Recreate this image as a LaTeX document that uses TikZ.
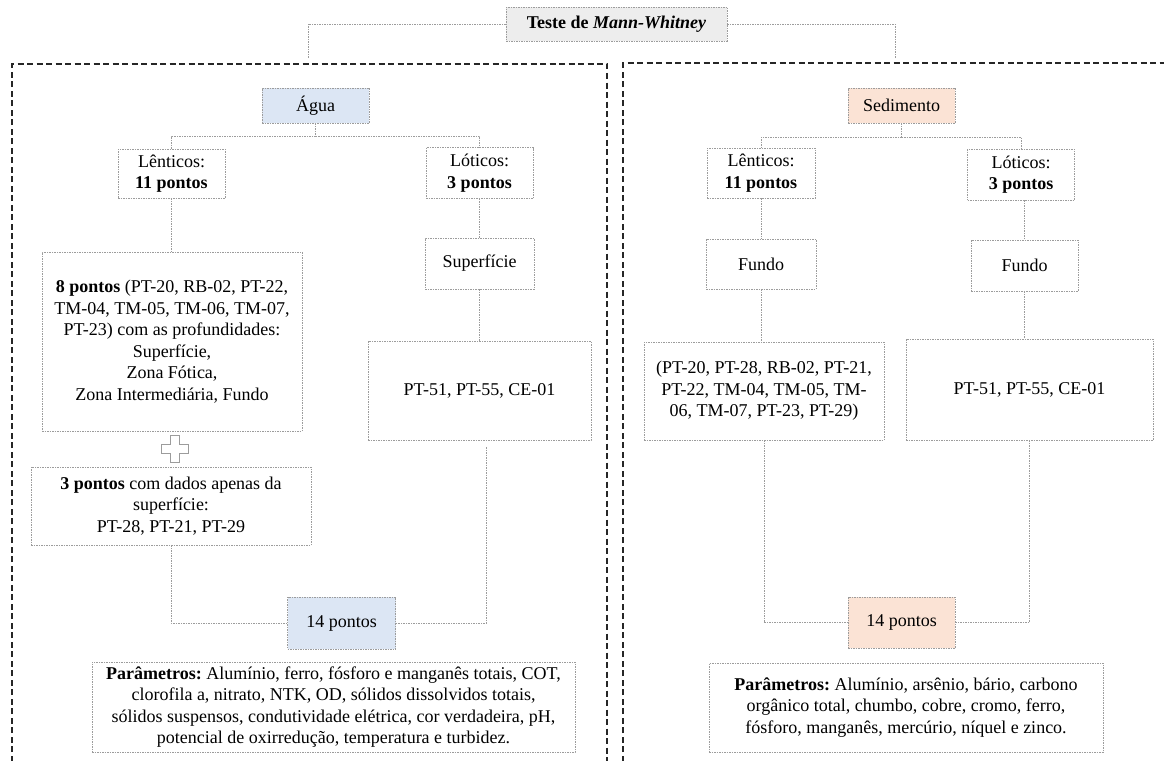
\documentclass[tikz,border=0pt]{standalone}
\usepackage{fontspec}
\setmainfont{Liberation Serif}
\definecolor{bluefill}{HTML}{DCE6F4}
\definecolor{orfill}{HTML}{FBE3D5}
\definecolor{grayfill}{HTML}{EDEDED}
\definecolor{lgray}{HTML}{9C9C9C}
\begin{document}
\frenchspacing
\begin{tikzpicture}[x=1pt,y=-1pt,
  bx/.style={draw=lgray, line width=0.7pt, dash pattern=on 1.5pt off 1pt, align=center, inner sep=0pt, font=\fontsize{18}{21.5}\selectfont},
  conn/.style={draw=lgray, line width=0.7pt, dash pattern=on 1.5pt off 1pt},
  outer/.style={draw=black!85, line width=1.3pt, dash pattern=on 6pt off 3.5pt}]
\useasboundingbox (0,0) rectangle (1164,760);
\fill[white] (0,0) rectangle (1164,760);

% outer panels
\draw[outer] (12,790) -- (12,64) -- (607,64) -- (607,790);
\draw[outer] (623,790) -- (623,63) -- (1180,63);

% title
\node[bx, fill=grayfill, minimum width=221pt, minimum height=34pt] (title) at (616.5,24) {\textbf{Teste de \textit{Mann-Whitney}}};
\coordinate (tl) at (308,58);
\coordinate (tr) at (895,58);
\draw[conn] (title.west) -| (tl);
\draw[conn] (title.east) -| (tr);

% ---------- left panel: Agua ----------
\node[bx, fill=bluefill, minimum width=107pt, minimum height=35pt] (agua) at (315.5,105.5) {Água};
\node[bx, minimum width=107pt, minimum height=49pt] (lentA) at (171.5,173.5) {Lênticos:\\\textbf{11 pontos}};
\node[bx, minimum width=107pt, minimum height=51pt] (lotA) at (479.5,173) {Lóticos:\\\textbf{3 pontos}};
\coordinate (aB) at (315.5,136);
\draw[conn] (agua.south) -- (aB);
\draw[conn] (aB) -| (lentA.north);
\draw[conn] (aB) -| (lotA.north);

\node[bx, minimum width=260pt, minimum height=179pt] (oito) at (172,341.5)
  {\textbf{8 pontos} (PT-20, RB-02, PT-22,\\TM-04, TM-05, TM-06, TM-07,\\PT-23) com as profundidades:\\Superfície,\\Zona Fótica,\\Zona Intermediária, Fundo};
\draw[conn] (lentA.south) -- (oito.north -| lentA.south);

\node[bx, minimum width=109pt, minimum height=51pt] (supA) at (479.5,263.5) {Superfície};
\node[bx, minimum width=223pt, minimum height=99pt] (ptA) at (479.5,390.5) {PT-51, PT-55, CE-01};
\draw[conn] (lotA.south) -- (supA.north);
\draw[conn] (supA.south) -- (ptA.north);

% plus sign
\begin{scope}[shift={(174.5,448.5)}]
\draw[lgray, line width=0.6pt] (-4.5,-13.5) -- (4.5,-13.5) -- (4.5,-4.5) -- (13.5,-4.5) -- (13.5,4.5) -- (4.5,4.5) -- (4.5,13.5) -- (-4.5,13.5) -- (-4.5,4.5) -- (-13.5,4.5) -- (-13.5,-4.5) -- (-4.5,-4.5) -- cycle;
\end{scope}

\node[bx, minimum width=280pt, minimum height=78pt] (tres) at (171,506)
  {\textbf{3 pontos} com dados apenas da\\superfície:\\PT-28, PT-21, PT-29};

\node[bx, fill=bluefill, minimum width=108pt, minimum height=52pt] (quatA) at (341.5,623) {14 pontos};
\draw[conn] (tres.south) |- (quatA.west);
\coordinate (cA) at (486,447);
\draw[conn] (cA) |- (quatA.east);

\node[bx, minimum width=483pt, minimum height=90pt] (parA) at (333.5,707)
  {\textbf{Parâmetros:} Alumínio, ferro, fósforo e manganês totais, COT,\\clorofila a, nitrato, NTK, OD, sólidos dissolvidos totais,\\sólidos suspensos, condutividade elétrica, cor verdadeira, pH,\\potencial de oxirredução, temperatura e turbidez.};

% ---------- right panel: Sedimento ----------
\node[bx, fill=orfill, minimum width=107pt, minimum height=35pt] (sed) at (901.5,105.5) {Sedimento};
\node[bx, minimum width=108pt, minimum height=50pt] (lentB) at (761,173) {Lênticos:\\\textbf{11 pontos}};
\node[bx, minimum width=107pt, minimum height=51pt] (lotB) at (1021,174.5) {Lóticos:\\\textbf{3 pontos}};
\coordinate (sB) at (901.5,137);
\draw[conn] (sed.south) -- (sB);
\draw[conn] (sB) -| (lentB.north);
\draw[conn] (sB) -| (lotB.north);

\node[bx, minimum width=110pt, minimum height=50pt] (fundoL) at (761,264) {Fundo};
\node[bx, minimum width=107pt, minimum height=51pt] (fundoR) at (1024.5,265.5) {Fundo};
\draw[conn] (lentB.south) -- (fundoL.north);
\draw[conn] (lotB.south -| fundoR.north) -- (fundoR.north);

\node[bx, minimum width=240pt, minimum height=98pt] (ptB1) at (764,391)
  {(PT-20, PT-28, RB-02, PT-21,\\PT-22, TM-04, TM-05, TM-\\06, TM-07, PT-23, PT-29)};
\node[bx, minimum width=247pt, minimum height=101pt] (ptB2) at (1029.5,389.5) {PT-51, PT-55, CE-01};
\draw[conn] (fundoL.south) -- (ptB1.north -| fundoL.south);
\draw[conn] (fundoR.south) -- (ptB2.north -| fundoR.south);

\node[bx, fill=orfill, minimum width=107pt, minimum height=51pt] (quatB) at (901.5,622.5) {14 pontos};
\draw[conn] (ptB1.south) |- (quatB.west);
\draw[conn] (ptB2.south) |- (quatB.east);

\node[bx, minimum width=394pt, minimum height=89pt] (parB) at (906,707.5)
  {\textbf{Parâmetros:} Alumínio, arsênio, bário, carbono\\orgânico total, chumbo, cobre, cromo, ferro,\\fósforo, manganês, mercúrio, níquel e zinco.};
\end{tikzpicture}
\end{document}
